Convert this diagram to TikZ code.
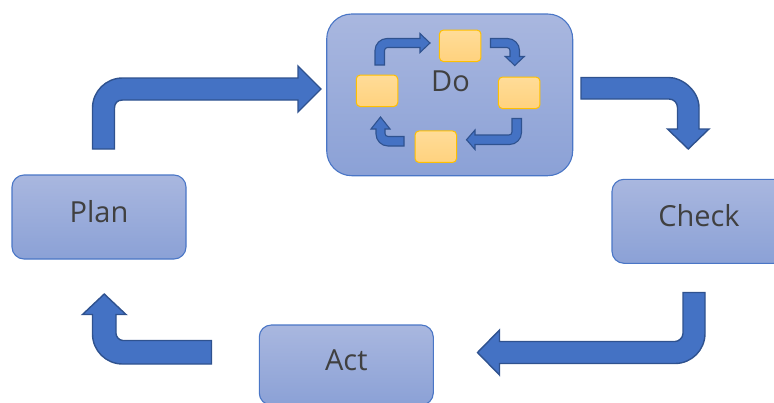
\documentclass[tikz,border=0pt]{standalone}
\usepackage{fontspec}
\setmainfont{Open Sans}
\definecolor{boxtop}{HTML}{A9B7DF}
\definecolor{boxbot}{HTML}{8BA1D6}
\definecolor{boxline}{HTML}{4A76C6}
\definecolor{arrowfill}{HTML}{4472C4}
\definecolor{arrowline}{HTML}{2F528F}
\definecolor{tasktop}{HTML}{FFDC98}
\definecolor{taskbot}{HTML}{FFD27E}
\definecolor{taskline}{HTML}{FFC000}
\definecolor{txt}{HTML}{404040}
\begin{document}
\begin{tikzpicture}[x=1pt,y=-1pt,
  stage/.style={draw=boxline, line width=1.1pt, rounded corners=12pt,
    top color=boxtop, bottom color=boxbot, inner sep=0pt, outer sep=0pt,
    minimum width=174pt, minimum height=84pt,
    font=\fontsize{29}{34}\selectfont, text=txt,
    text height=20.9pt, text depth=10.2pt},
  task/.style={draw=taskline, line width=1pt, rounded corners=4pt,
    top color=tasktop, bottom color=taskbot, inner sep=0pt, outer sep=0pt,
    minimum width=41.5pt, minimum height=31.5pt},
  blockarrow/.style={fill=arrowfill, draw=arrowline, line width=1.4pt, line join=miter},
  smallarrow/.style={blockarrow, line width=1.1pt}]
\useasboundingbox (0,0) rectangle (774,402);
\clip (0,0) rectangle (774,402);

% the four stages
\node[stage] (plan) at (99,217) {Plan};
\node[stage] (check) at (699,221.3) {Check};
\node[stage, minimum height=80pt] (act) at (346.3,365) {Act};
\node[stage, minimum width=246pt, minimum height=161.7pt, rounded corners=25pt]
  (do) at (449.7,94.85) {};

% small task cycle inside "Do"
\node[task] (t1) at (460.2,45.8) {};
\node[task] (t2) at (519.2,92.8) {};
\node[task] (t3) at (435.8,146.7) {};
\node[task] (t4) at (377,90.8) {};
\node[font=\fontsize{29}{34}\selectfont, text=txt, inner sep=0pt] (dolabel) at (450.5,81) {Do};

% small bent arrows between the tasks
\draw[smallarrow] (375,65) -- (375,50.5) .. controls (375,43.87) and (380.37,38.5) .. (387,38.5)
  -- (420,38.5) -- (420,33.5) -- (430,43) -- (420,52.5) -- (420,47.5) -- (387.5,47.5)
  .. controls (385.84,47.5) and (384.5,48.84) .. (384.5,50.5) -- (384.5,65) -- cycle;
\draw[smallarrow] (490.5,38.5) -- (507.5,38.5) .. controls (514.13,38.5) and (519.5,43.87) .. (519.5,50.5)
  -- (519.5,56.5) -- (524.25,56.5) -- (514.75,65.5) -- (505.25,56.5) -- (510,56.5) -- (510,50.5)
  .. controls (510,48.84) and (508.66,47.5) .. (507,47.5) -- (490.5,47.5) -- cycle;
\draw[smallarrow] (512,118.5) -- (521.5,118.5) -- (521.5,132.5) .. controls (521.5,139.13) and (516.13,144.5) .. (509.5,144.5)
  -- (475,144.5) -- (475,149.5) -- (466.5,139.75) -- (475,130) -- (475,135) -- (509,135)
  .. controls (510.66,135) and (512,133.66) .. (512,132) -- cycle;
\draw[smallarrow] (404,136.5) -- (404,146) -- (388,146) .. controls (381.37,146) and (376,140.63) .. (376,134)
  -- (376,129) -- (371,129) -- (380.5,117) -- (390,129) -- (385,129) -- (385,133.5)
  .. controls (385,135.16) and (386.34,136.5) .. (388,136.5) -- cycle;

% large bent arrows between the stages
% plan -> do
\draw[blockarrow] (92.5,149) -- (92.5,108) .. controls (92.5,91.43) and (105.93,78) .. (122.5,78)
  -- (298,78) -- (298,66) -- (321,89) -- (298,112) -- (298,100) -- (122.5,100)
  .. controls (117.08,100) and (114.5,103.58) .. (114.5,108) -- (114.5,149) -- cycle;
% do -> check
\draw[blockarrow] (581,77.5) -- (669,77.5) .. controls (682.43,77.5) and (699,90.93) .. (699,107.5)
  -- (699,129) -- (709,129) -- (688.25,149) -- (667.5,129) -- (677.5,129) -- (677.5,107.5)
  .. controls (677.5,102.8) and (673.7,99) .. (669,99) -- (581,99) -- cycle;
% check -> act
\draw[blockarrow] (683,292.5) -- (705,292.5) -- (705,333.5) .. controls (705,350.07) and (691.57,363.5) .. (675,363.5)
  -- (499.5,363.5) -- (499.5,375) -- (477.5,352.5) -- (499.5,330) -- (499.5,341.5) -- (675,341.5)
  .. controls (678.58,341.5) and (683,337.92) .. (683,333.5) -- cycle;
% act -> plan
\draw[blockarrow] (211.5,340.5) -- (211.5,364) -- (122.5,364) .. controls (105.93,364) and (92.5,350.57) .. (92.5,334)
  -- (92.5,314.5) -- (82.5,314.5) -- (104.25,294) -- (126,314.5) -- (116,314.5) -- (116,333.5)
  .. controls (116,336.63) and (119.13,340.5) .. (123,340.5) -- cycle;
\end{tikzpicture}
\end{document}
